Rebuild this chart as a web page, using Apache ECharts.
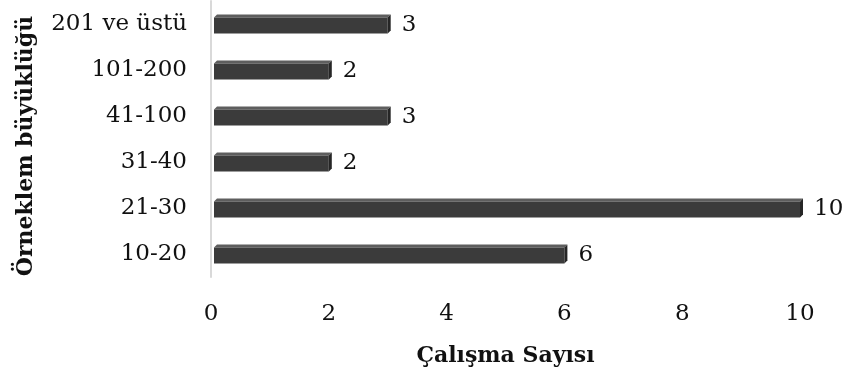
<!DOCTYPE html>
<html>
<head>
<meta charset="utf-8">
<script src="https://cdn.jsdelivr.net/npm/echarts@6/dist/echarts.min.js"></script>
<style>
  html, body { margin: 0; padding: 0; background: #fff; }
  #chart { width: 842px; height: 378px; }
</style>
</head>
<body>
<div id="chart"></div>
<script>
// kategoriler (alttan üste)
const categories = ['10-20', '21-30', '31-40', '41-100', '101-200', '201 ve üstü'];
const counts = [6, 10, 2, 3, 2, 3];
const xMin = 0;
const xMax = 10;
const xStep = 2;

const FONT = 'DejaVu Serif';

document.addEventListener('DOMContentLoaded', function () {
    const myChart = echarts.init(document.getElementById('chart'), null, { renderer: 'canvas' });

    // 3B görünümlü çubuk
    function renderBar(params, api) {
        const idx = api.value(1);
        const v = api.value(0);
        const p0 = api.coord([0, idx]);
        const p1 = api.coord([v, idx]);
        const band = api.size([0, 1])[1];
        const h = band * 0.41;
        const d = 3;
        const x0 = p0[0] + 3;
        const x1 = p1[0];
        const yTop = p0[1] - h / 2;
        const yBot = p0[1] + h / 2;

        return {
            type: 'group',
            children: [
                {
                    type: 'polygon',
                    shape: { points: [[x0, yTop + d], [x0 + d, yTop], [x1 + d, yTop], [x1, yTop + d]] },
                    style: { fill: '#5e5e5e' }
                },
                {
                    type: 'rect',
                    shape: { x: x0, y: yTop + d, width: x1 - x0, height: yBot - yTop - d },
                    style: { fill: '#3b3b3b' }
                },
                {
                    type: 'polygon',
                    shape: { points: [[x1, yTop + d], [x1 + d, yTop], [x1 + d, yBot - d], [x1, yBot]] },
                    style: { fill: '#262626' }
                },
                {
                    type: 'text',
                    style: {
                        text: String(v),
                        x: x1 + d + 11,
                        y: p0[1] + 1,
                        fill: '#111',
                        font: '23px "' + FONT + '"',
                        verticalAlign: 'middle',
                        align: 'left'
                    }
                }
            ]
        };
    }

    const option = {
        animation: false,
        grid: { left: 211, right: 42, top: 1, bottom: 101, containLabel: false },
        xAxis: {
            type: 'value',
            min: xMin,
            max: xMax,
            interval: xStep,
            name: 'Çalışma Sayısı',
            nameLocation: 'middle',
            nameGap: 68,
            nameTextStyle: { fontFamily: FONT, fontWeight: 'bold', fontSize: 22, color: '#111' },
            axisLine: { show: false },
            axisTick: { show: false },
            splitLine: { show: false },
            axisLabel: { fontFamily: FONT, fontSize: 23, color: '#111', margin: 26 }
        },
        yAxis: {
            type: 'category',
            data: categories,
            name: 'Örneklem büyüklüğü',
            nameLocation: 'middle',
            nameGap: 174,
            nameRotate: 90,
            nameTextStyle: {
                fontFamily: FONT, fontWeight: 'bold', fontSize: 22, color: '#111',
                padding: [0, 14, 0, 0]
            },
            axisLine: { show: true, lineStyle: { color: '#d9d9d9', width: 2 } },
            axisTick: { show: false },
            axisLabel: { fontFamily: FONT, fontSize: 23, color: '#111', margin: 24 }
        },
        series: [{
            type: 'custom',
            renderItem: renderBar,
            encode: { x: 0, y: 1 },
            data: counts.map(function (v, i) { return [v, i]; })
        }]
    };

    myChart.setOption(option);
});
</script>
</body>
</html>
